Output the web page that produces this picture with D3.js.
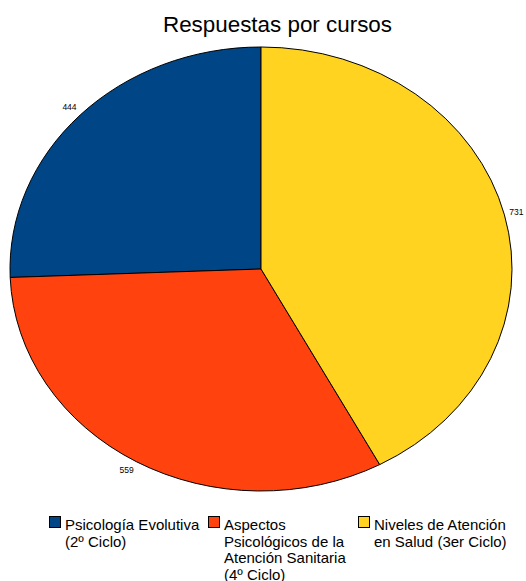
<!DOCTYPE html>
<html>
<head>
<meta charset="utf-8">
<script src="https://cdn.jsdelivr.net/npm/d3@7/dist/d3.min.js"></script>
<style>
  html, body { margin: 0; padding: 0; background: #fff; }
  svg { display: block; }
</style>
</head>
<body>
<svg id="chart" width="526" height="581"></svg>
<script>
const title = "Respuestas por cursos";
const categories = [
  ["Psicología Evolutiva", "(2º Ciclo)"],
  ["Aspectos", "Psicológicos de la", "Atención Sanitaria", "(4º Ciclo)"],
  ["Niveles de Atención", "en Salud (3er Ciclo)"]
];
const values = [444, 559, 731];
const colors = ["#004586", "#ff420e", "#ffd320"];

const W = 526, H = 581;
const cx = 261, cy = 269, rx = 251, ry = 222;
const svg = d3.select("#chart");

svg.append("text")
  .attr("x", 277.5).attr("y", 32)
  .attr("text-anchor", "middle")
  .style("font-family", "'Liberation Sans', Arial, sans-serif")
  .style("font-size", "22.4px")
  .attr("fill", "#000")
  .text(title);

const pie = d3.pie().sort(null).startAngle(0).endAngle(-2 * Math.PI);
const arcs = pie(values);
const arc = d3.arc().innerRadius(0).outerRadius(rx);

const g = svg.append("g").attr("transform", `translate(${cx},${cy}) scale(1,${ry / rx})`);
g.selectAll("path").data(arcs).enter().append("path")
  .attr("d", arc)
  .attr("fill", (d, i) => colors[i])
  .attr("stroke", "#000")
  .attr("stroke-width", 1)
  .attr("vector-effect", "non-scaling-stroke");

// value labels
svg.append("g").selectAll("text").data(arcs).enter().append("text")
  .each(function(d) {
    const a = (d.startAngle + d.endAngle) / 2;
    const s = Math.sin(a), c = Math.cos(a);
    const x = cx + rx * s + s * 5;
    const y = cy - ry * c - c * 10;
    d3.select(this)
      .attr("x", x).attr("y", y)
      .attr("text-anchor", s < 0 ? "end" : "start")
      .attr("dominant-baseline", "middle");
  })
  .style("font-family", "'Liberation Sans', Arial, sans-serif")
  .style("font-size", "8.5px")
  .attr("fill", "#000")
  .text(d => d.data);

// legend
const legendX = [49, 208, 358];
const lg = svg.append("g").selectAll("g").data(categories).enter().append("g")
  .attr("transform", (d, i) => `translate(${legendX[i]},516)`);
lg.append("rect")
  .attr("x", 0.5).attr("y", 0.5).attr("width", 11).attr("height", 11)
  .attr("fill", (d, i) => colors[i])
  .attr("stroke", "#000").attr("stroke-width", 1);
lg.append("text")
  .style("font-family", "'Liberation Sans', Arial, sans-serif")
  .style("font-size", "15px")
  .attr("fill", "#000")
  .selectAll("tspan").data(d => d).enter().append("tspan")
  .attr("x", 16)
  .attr("y", (d, j) => 14 + j * 16.5)
  .text(d => d);
</script>
</body>
</html>
